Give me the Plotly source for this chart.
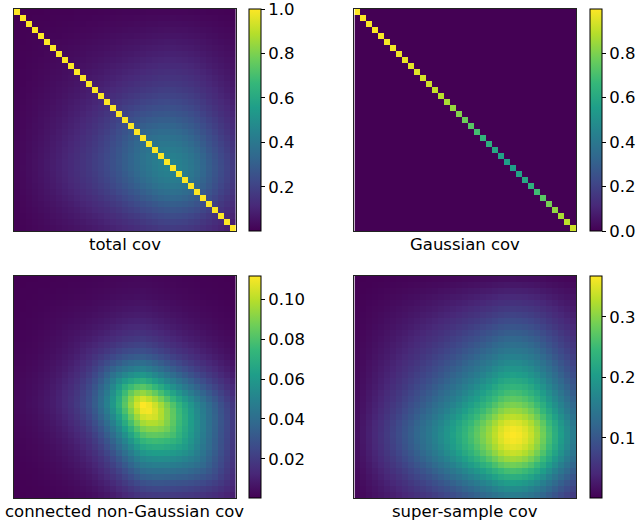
import numpy as np
import plotly.graph_objects as go

# ---- data: 37 bins, correlation-normalised covariance pieces ----
n_bins = 37
bins = list(range(n_bins))

# Gaussian part (diagonal only)
gauss_diag = [0.999, 0.998, 0.996, 0.994, 0.991, 0.987, 0.983, 0.977, 0.970, 0.962,
              0.952, 0.941, 0.928, 0.911, 0.892, 0.869, 0.841, 0.809, 0.772, 0.735,
              0.695, 0.653, 0.625, 0.596, 0.569, 0.555, 0.5545, 0.571, 0.599, 0.637,
              0.685, 0.737, 0.787, 0.830, 0.868, 0.899, 0.924]

# connected non-Gaussian part: diagonal amplitude and correlation versus bin separation
ng_diag = [0.0004, 0.0005, 0.0007, 0.0009, 0.0013, 0.0018, 0.0024, 0.0032, 0.0042, 0.0055,
           0.0072, 0.0095, 0.0125, 0.0170, 0.0230, 0.0310, 0.0420, 0.0550, 0.0700, 0.0850,
           0.1000, 0.1116, 0.1100, 0.1040, 0.0960, 0.0870, 0.0780, 0.0690, 0.0610, 0.0530,
           0.0450, 0.0380, 0.0310, 0.0250, 0.0190, 0.0140, 0.0100]
ng_lag_corr = [1.00, 0.985, 0.96, 0.93, 0.90, 0.865, 0.83, 0.795, 0.76, 0.73,
               0.70, 0.67, 0.64, 0.61, 0.58, 0.555, 0.53, 0.505, 0.48, 0.46,
               0.44, 0.42, 0.40, 0.38, 0.36, 0.345, 0.33, 0.315, 0.30, 0.285,
               0.27, 0.26, 0.25, 0.24, 0.23, 0.22, 0.21]

# super-sample part (rank one): diagonal values
ssc_diag = [0.0006, 0.0015, 0.003, 0.005, 0.0075, 0.011, 0.015, 0.020, 0.026, 0.033,
            0.041, 0.050, 0.060, 0.072, 0.085, 0.100, 0.117, 0.136, 0.158, 0.180,
            0.205, 0.235, 0.265, 0.300, 0.335, 0.358, 0.3675, 0.360, 0.340, 0.310,
            0.270, 0.225, 0.182, 0.145, 0.113, 0.087, 0.066]

titles = ["total cov", "Gaussian cov", "connected non-Gaussian cov", "super-sample cov"]
tick_values = [[0.2, 0.4, 0.6, 0.8, 1.0],
               [0.0, 0.2, 0.4, 0.6, 0.8],
               [0.02, 0.04, 0.06, 0.08, 0.10],
               [0.1, 0.2, 0.3]]
tick_formats = [".1f", ".1f", ".2f", ".1f"]

# ---- build matrices ----
idx = np.arange(n_bins)
lag = np.abs(idx[:, None] - idx[None, :])
gauss = np.diag(gauss_diag)
a_ng = np.sqrt(np.array(ng_diag))
ng = np.outer(a_ng, a_ng) * np.array(ng_lag_corr)[lag]
a_ssc = np.sqrt(np.array(ssc_diag))
ssc = np.outer(a_ssc, a_ssc)
total = gauss + ng + ssc
mats = [total, gauss, ng, ssc]

# ---- layout in pixels ----
W, H = 636, 521
panel_x = [(14, 236), (355, 577), (14, 236), (355, 577)]
panel_y = [(9, 231), (9, 231), (276, 498), (276, 498)]
cbar_x = [249, 590, 249, 590]
font = dict(family="DejaVu Sans", size=16.5, color="black")

fig = go.Figure()
layout = dict(width=W, height=H, margin=dict(l=0, r=0, t=0, b=0),
              paper_bgcolor="white", plot_bgcolor="white", showlegend=False)
annotations = []

for k in range(4):
    xa = "x" if k == 0 else f"x{k+1}"
    ya = "y" if k == 0 else f"y{k+1}"
    x0, x1 = panel_x[k]
    y0, y1 = panel_y[k]
    z = mats[k]
    zmax = 1.0 if k == 0 else float(z.max())
    fig.add_trace(go.Heatmap(
        z=z, x=bins, y=bins, xaxis=xa, yaxis=ya,
        colorscale="Viridis", zmin=float(z.min()), zmax=zmax,
        hoverinfo="skip",
        colorbar=dict(
            x=cbar_x[k] / W, xanchor="left", xpad=0,
            y=1 - y0 / H, yanchor="top", ypad=0,
            len=y1 - y0, lenmode="pixels",
            thickness=12, thicknessmode="pixels",
            outlinewidth=1, outlinecolor="black",
            ticks="outside", ticklen=4, tickwidth=1, tickcolor="black",
            tickvals=tick_values[k], tickformat=tick_formats[k],
            ticklabeloverflow="allow",
            tickfont=font,
        ),
    ))
    axis_common = dict(showgrid=False, zeroline=False, showticklabels=False, ticks="",
                       showline=True, mirror=True, linecolor="#222222", linewidth=1)
    layout["xaxis" if k == 0 else f"xaxis{k+1}"] = dict(
        domain=[x0 / W, x1 / W], range=[-0.5, n_bins - 0.5], anchor=ya, **axis_common)
    layout["yaxis" if k == 0 else f"yaxis{k+1}"] = dict(
        domain=[1 - y1 / H, 1 - y0 / H], range=[n_bins - 0.5, -0.5], anchor=xa, **axis_common)
    annotations.append(dict(
        text=titles[k], x=(x0 + x1) / 2 / W, y=1 - (y1 + 2) / H,
        xref="paper", yref="paper", xanchor="center", yanchor="top",
        showarrow=False, font=font))

layout["annotations"] = annotations
fig.update_layout(**layout)
fig.write_html("out.html")
